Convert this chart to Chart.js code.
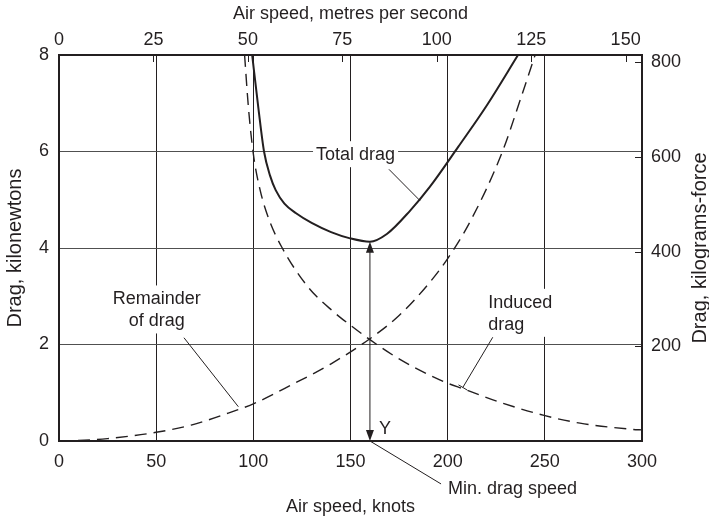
<!DOCTYPE html>
<html>
<head>
<meta charset="utf-8">
<script src="https://cdn.jsdelivr.net/npm/chart.js@4.4.1/dist/chart.umd.min.js"></script>
<style>
html,body{margin:0;padding:0;background:#ffffff;}
canvas{display:block;}
</style>
</head>
<body>
<canvas id="c" width="709" height="520"></canvas>
<script>
// ---------- data ----------
const knotTicks = [0, 50, 100, 150, 200, 250, 300];
const msTicks   = [0, 25, 50, 75, 100, 125, 150];
const kNTicks   = [0, 2, 4, 6, 8];
const kgfTicks  = [200, 400, 600, 800];

const totalKnots = [99.4, 102.6, 105.5, 108.6, 111.5, 116, 122, 130, 140, 149.8, 160, 168.7, 180.6, 190.9, 205.5, 220.2, 236.2];
const totalKN    = [8.0, 6.9, 6.0, 5.5, 5.2, 4.92, 4.72, 4.52, 4.33, 4.2, 4.13, 4.29, 4.77, 5.27, 6.1, 6.96, 8.0];

const inducedKnots = [95.5, 97.5, 100, 103.5, 108, 114.6, 128.2, 141.2, 150, 160, 173.8, 190.9, 199.8, 208.1, 228.6, 249.6, 268.1, 295.4, 300];
const inducedKN    = [8.0, 6.9, 5.95, 5.2, 4.6, 4.02, 3.19, 2.68, 2.4, 2.1, 1.73, 1.36, 1.2, 1.08, 0.78, 0.53, 0.37, 0.24, 0.23];

const remainderKnots = [0, 10, 25, 50, 68, 90, 100, 120, 140, 160, 175, 190, 200, 212, 228, 238, 245];
const remainderKN    = [0, 0.01, 0.05, 0.18, 0.33, 0.62, 0.77, 1.17, 1.6, 2.12, 2.6, 3.25, 3.78, 4.58, 5.98, 7.15, 8.0];

const minDragSpeed = 160;   // knots
const minDragValue = 4.13;  // kN

const KNOT_TO_MS = 0.514444;
const KN_TO_KGF  = 101.97162;

// ---------- styles ----------
const INK = '#231f20';
const GRID_V = '#231f20';
const GRID_H = '#505050';
const FAM = '"Liberation Sans", Arial, Helvetica, sans-serif';
const TICK_FONT = {family: FAM, size: 18};
const TITLE_FONT = {family: FAM, size: 18};
const VTITLE_SIZE = 20;

// annotation placement (in data units: knots, kN)
const textLabels = [
  {lines: ['Total drag'], x: 152.6, y: 5.82, align: 'center', box: true},
  {lines: ['Remainder', 'of drag'], x: 50.3, y: 2.83, align: 'center', box: true},
  {lines: ['Induced', 'drag'], x: 220.9, y: 2.76, align: 'left', box: true}
];
const leaders = [
  {from: [169.8, 5.63], to: [185.8, 4.98]},
  {from: [64.3, 2.14], to: [92.3, 0.71]},
  {from: [223.2, 2.15], to: [207.8, 1.11], tbar: true},
  {from: [minDragSpeed, 0], to: [196.6, -0.89]}
];
const minDragText = {text: 'Min. drag speed', x: 200.2, y: -1.0};
const yMark = {text: 'Y', x: 164.7, y: 0.25};

function pts(xs, ys) { return xs.map((v, i) => ({x: v, y: ys[i]})); }

const annotations = {
  id: 'annotations',
  afterDatasetsDraw(chart) {
    const {ctx, chartArea: ca, scales} = chart;
    const sx = scales.x, sy = scales.y, sx2 = scales.x2, sy2 = scales.y2;
    const px = v => sx.getPixelForValue(v);
    const py = v => sy.getPixelForValue(v);
    ctx.save();
    ctx.strokeStyle = INK;
    ctx.fillStyle = INK;
    ctx.lineWidth = 1;

    // inward tick marks on top (m/s) and right (kgf) axes
    sx2.ticks.forEach(t => {
      if (t.value <= 0) return;
      const X = Math.round(sx2.getPixelForValue(t.value)) + 0.5;
      ctx.beginPath(); ctx.moveTo(X, ca.top); ctx.lineTo(X, ca.top + 7); ctx.stroke();
    });
    sy2.ticks.forEach(t => {
      if (t.value <= 0) return;
      const Y = Math.round(sy2.getPixelForValue(t.value)) + 0.5;
      ctx.beginPath(); ctx.moveTo(ca.right - 7, Y); ctx.lineTo(ca.right, Y); ctx.stroke();
    });

    // text labels with white backing (interrupt grid lines)
    ctx.font = '18px ' + FAM;
    const lh = 22;
    textLabels.forEach(l => {
      const X = px(l.x), Y0 = py(l.y);
      const widths = l.lines.map(s => ctx.measureText(s).width);
      const w = Math.max(...widths);
      const left = l.align === 'center' ? X - w / 2 : X;
      const top = Y0 - 19, bottom = Y0 + (l.lines.length - 1) * lh + 7;
      if (l.box) {
        ctx.fillStyle = '#ffffff';
        ctx.fillRect(left - 3, top, w + 6, bottom - top);
      }
      ctx.fillStyle = INK;
      ctx.textAlign = l.align;
      ctx.textBaseline = 'alphabetic';
      l.lines.forEach((s, i) => ctx.fillText(s, X, Y0 + i * lh));
    });

    // leader lines
    ctx.lineWidth = 1;
    leaders.forEach(d => {
      const x1 = px(d.from[0]), y1 = py(d.from[1]);
      const x2 = px(d.to[0]), y2 = py(d.to[1]);
      ctx.beginPath(); ctx.moveTo(x1, y1); ctx.lineTo(x2, y2); ctx.stroke();
      if (d.tbar) {
        const dx = x2 - x1, dy = y2 - y1, len = Math.hypot(dx, dy);
        const nx = -dy / len * 5, ny = dx / len * 5;
        ctx.beginPath(); ctx.moveTo(x2 - nx, y2 - ny); ctx.lineTo(x2 + nx, y2 + ny); ctx.stroke();
      }
    });

    // min-drag double arrow
    const ax = px(minDragSpeed), yTop = py(minDragValue), yBot = py(0);
    ctx.beginPath(); ctx.moveTo(ax, yTop + 8); ctx.lineTo(ax, yBot - 8); ctx.stroke();
    ctx.beginPath(); ctx.moveTo(ax, yTop); ctx.lineTo(ax - 4, yTop + 11); ctx.lineTo(ax + 4, yTop + 11); ctx.closePath(); ctx.fill();
    ctx.beginPath(); ctx.moveTo(ax, yBot); ctx.lineTo(ax - 4, yBot - 11); ctx.lineTo(ax + 4, yBot - 11); ctx.closePath(); ctx.fill();

    ctx.textAlign = 'left';
    ctx.textBaseline = 'middle';
    ctx.fillText(yMark.text, px(yMark.x), py(yMark.y));
    ctx.fillText(minDragText.text, px(minDragText.x), py(minDragText.y));

    ctx.restore();
  },
  afterDraw(chart) {
    // right-hand axis title, reading bottom-to-top
    const {ctx, chartArea: ca} = chart;
    ctx.save();
    ctx.fillStyle = INK;
    ctx.font = VTITLE_SIZE + 'px ' + FAM;
    ctx.translate(700, (ca.top + ca.bottom) / 2);
    ctx.rotate(-Math.PI / 2);
    ctx.textAlign = 'center';
    ctx.textBaseline = 'middle';
    ctx.fillText('Drag, kilograms-force', 0, 0);
    ctx.restore();
  }
};

new Chart(document.getElementById('c'), {
  type: 'line',
  data: {
    datasets: [
      {label: 'Total drag', data: pts(totalKnots, totalKN), borderColor: INK, borderWidth: 2,
       pointRadius: 0, cubicInterpolationMode: 'monotone', fill: false, xAxisID: 'x', yAxisID: 'y'},
      {label: 'Induced drag', data: pts(inducedKnots, inducedKN), borderColor: INK, borderWidth: 1.4,
       borderDash: [12, 7], pointRadius: 0, cubicInterpolationMode: 'monotone', fill: false, xAxisID: 'x', yAxisID: 'y'},
      {label: 'Remainder of drag', data: pts(remainderKnots, remainderKN), borderColor: INK, borderWidth: 1.4,
       borderDash: [12, 7], pointRadius: 0, cubicInterpolationMode: 'monotone', fill: false, xAxisID: 'x', yAxisID: 'y'}
    ]
  },
  options: {
    responsive: false,
    animation: false,
    devicePixelRatio: 1,
    layout: {padding: 0},
    plugins: {legend: {display: false}, tooltip: {enabled: false}},
    scales: {
      x: {
        type: 'linear', position: 'bottom', min: 0, max: 300,
        afterBuildTicks: s => { s.ticks = knotTicks.map(v => ({value: v})); },
        afterFit: s => { s.height = 79; },
        ticks: {font: TICK_FONT, color: INK, padding: 10, maxRotation: 0},
        grid: {color: GRID_V, lineWidth: 1, drawTicks: false},
        border: {display: true, color: INK, width: 2},
        title: {display: true, text: 'Air speed, knots', color: INK, font: TITLE_FONT, padding: {top: 0, bottom: 2}}
      },
      x2: {
        type: 'linear', position: 'top', min: 0, max: 300 * KNOT_TO_MS,
        afterBuildTicks: s => { s.ticks = msTicks.map(v => ({value: v})); },
        afterFit: s => { s.height = 55; },
        ticks: {font: TICK_FONT, color: INK, padding: 4, maxRotation: 0},
        grid: {drawOnChartArea: false, drawTicks: false},
        border: {display: true, color: INK, width: 2},
        title: {display: true, text: 'Air speed, metres per second', color: INK, font: TITLE_FONT, padding: {top: 3, bottom: 0}}
      },
      y: {
        type: 'linear', position: 'left', min: 0, max: 8,
        afterBuildTicks: s => { s.ticks = kNTicks.map(v => ({value: v})); },
        afterFit: s => { s.width = 59; },
        ticks: {font: TICK_FONT, color: INK, padding: 10},
        grid: {color: GRID_H, lineWidth: 1, drawTicks: false},
        border: {display: true, color: INK, width: 2},
        title: {display: true, text: 'Drag, kilonewtons', color: INK, font: {family: FAM, size: VTITLE_SIZE}, padding: {top: 3, bottom: 0}}
      },
      y2: {
        type: 'linear', position: 'right', min: 0, max: 8 * KN_TO_KGF,
        afterBuildTicks: s => { s.ticks = kgfTicks.map(v => ({value: v})); },
        afterFit: s => { s.width = 67; },
        ticks: {font: TICK_FONT, color: INK, padding: 9},
        grid: {drawOnChartArea: false, drawTicks: false},
        border: {display: true, color: INK, width: 2},
        title: {display: false}
      }
    }
  },
  plugins: [annotations]
});
</script>
</body>
</html>
